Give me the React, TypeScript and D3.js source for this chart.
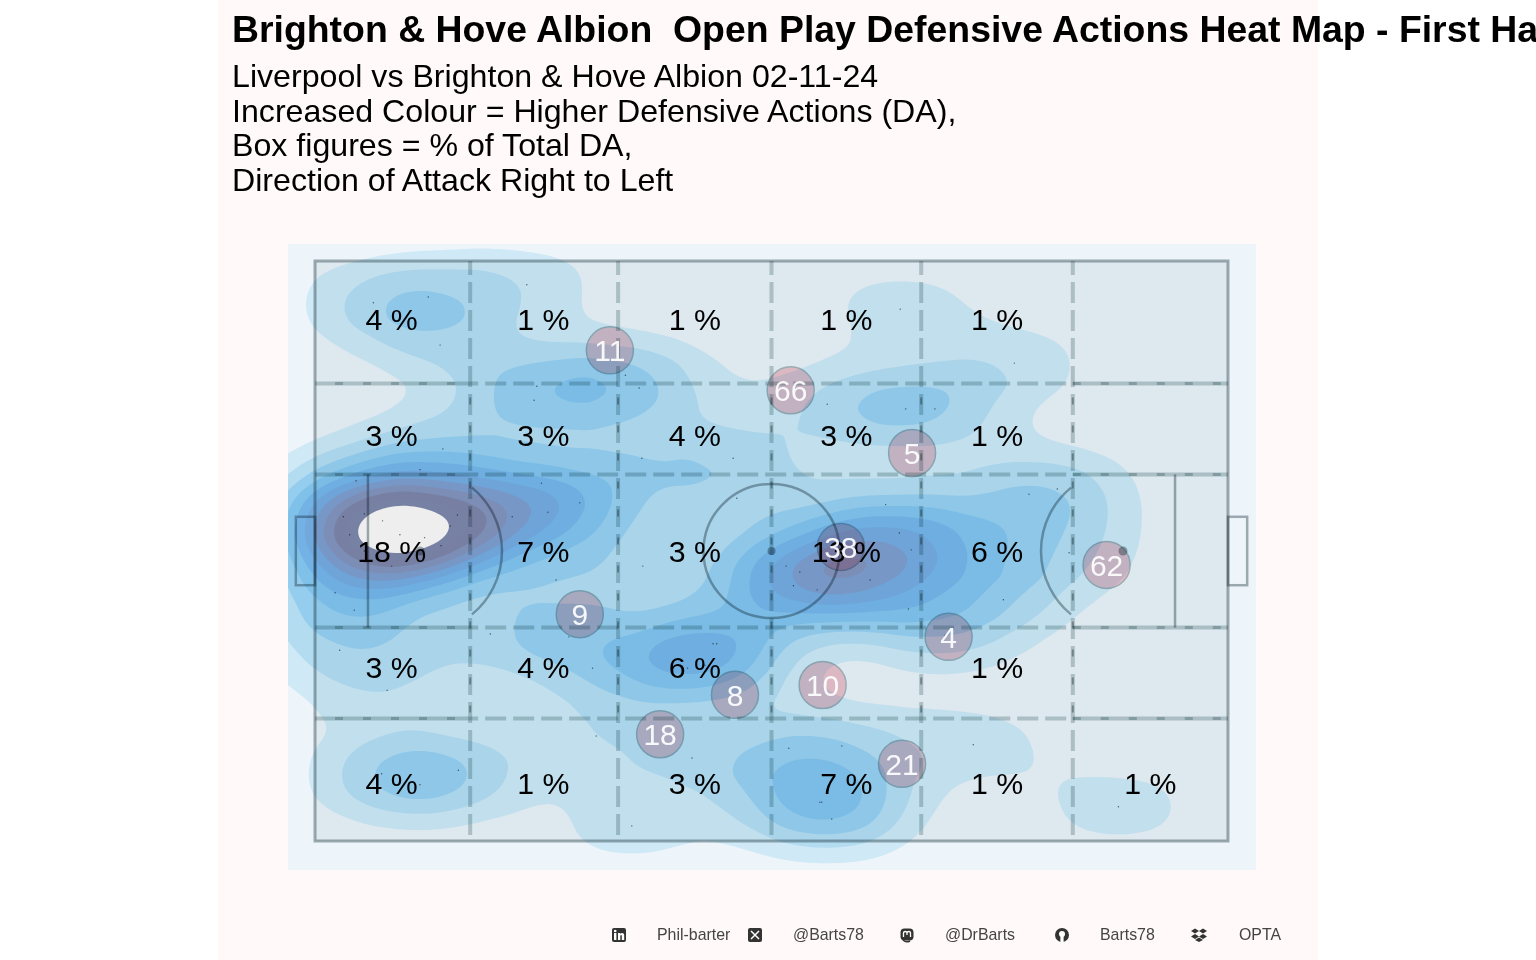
import React, { useMemo } from 'react';
import * as d3 from 'd3';

const WIDTH = 1536;
const HEIGHT = 960;

const titleText = 'Brighton & Hove Albion  Open Play Defensive Actions Heat Map - First Half';
const subtitleLines = [
  'Liverpool vs Brighton & Hove Albion 02-11-24',
  'Increased Colour = Higher Defensive Actions (DA),',
  'Box figures = % of Total DA,',
  'Direction of Attack Right to Left',
];

// pitch coords, 0-100 on both axes, y runs top to bottom
const actionX = [
  6.4, 12.4, 13.7, 23.2, 24.3, 24.0, 35.5, 14.0, 35.8, 45.8, 4.5, 24.8, 29.0, 25.5, 21.6, 15.6, 14.8, 3.1, 5.4, 7.4,
  3.8, 13.8, 5.4, 8.4, 2.2, 4.3, 46.2, 64.1, 76.6, 56.1, 64.7, 67.9, 78.2, 81.3, 64.0, 65.3, 82.6, 26.4, 35.9, 19.2,
  27.8, 30.4, 7.9, 43.6, 44.0, 30.8, 41.3, 15.7, 7.3, 34.7, 51.6, 53.1, 52.4, 55.0, 65.0, 75.4, 51.9, 57.7, 72.1, 55.3,
  55.5, 56.6, 88.0, 9.3, 12.0, 62.5, 60.8, 59.9, 73.4, 40.8, 42.7, 2.7, 11.5, 34.0, 69.0, 11.5,
];
const actionY = [
  7.2, 6.2, 14.5, 4.1, 21.6, 24.0, 21.9, 32.4, 34.0, 34.0, 37.9, 38.3, 41.7, 43.3, 44.1, 43.8, 45.7, 44.1, 43.6, 44.8,
  47.2, 49.1, 50.0, 52.6, 57.2, 60.2, 40.9, 8.3, 17.6, 24.7, 25.5, 25.5, 40.2, 39.3, 46.9, 49.8, 50.3, 55.0, 52.6, 64.3,
  64.8, 70.2, 74.0, 66.0, 66.0, 81.9, 85.7, 87.8, 88.4, 97.4, 52.6, 53.6, 56.0, 56.7, 60.0, 58.4, 84.0, 83.6, 83.4, 93.3,
  93.3, 96.2, 94.1, 47.2, 47.7, 42.0, 55.0, 49.0, 50.3, 70.2, 69.7, 67.1, 90.3, 19.7, 64.5, 36.0,
];

const zoneEdgesX = [17, 33.2, 50, 66.4, 83];
const zoneEdgesY = [21.1, 36.8, 63.2, 78.9];

// box figures, by row then column
const boxCentresX = [8.4, 25, 41.6, 58.2, 74.7, 91.5];
const boxCentresY = [10.2, 30.2, 50.2, 70.2, 90.3];
const boxLabels = [
  ['4 %', '1 %', '1 %', '1 %', '1 %', ''],
  ['3 %', '3 %', '4 %', '3 %', '1 %', ''],
  ['18 %', '7 %', '3 %', '13 %', '6 %', ''],
  ['3 %', '4 %', '6 %', '', '1 %', ''],
  ['4 %', '1 %', '3 %', '7 %', '1 %', '1 %'],
];

const shirtNumbers = ['11', '66', '5', '38', '62', '4', '9', '8', '10', '18', '21'];
const shirtX = [32.3, 52.1, 65.4, 57.6, 86.7, 69.4, 29.0, 46.0, 55.6, 37.8, 64.3];
const shirtY = [15.4, 22.3, 33.1, 49.3, 52.4, 64.8, 60.9, 74.8, 73.1, 81.6, 86.7];

const levelColours = [
  '#62bfea', '#50ade0', '#2e99e2', '#3895db', '#4481d8', '#7482ba', '#9d6a88', '#916f7f', '#695461', '#7a84a8',
];

const footerLabels = ['Phil-barter', '@Barts78', '@DrBarts', 'Barts78', 'OPTA'];
const footerLabelX = [657, 793, 945, 1100, 1239];
const footerIconX = [619, 755, 907, 1062, 1199];

const xScale = d3.scaleLinear().domain([0, 100]).range([315, 1228]);
const yScale = d3.scaleLinear().domain([0, 100]).range([261, 841]);

const PANEL = { x: 288, y: 244, w: 968, h: 626 };
const PAD = 80;
const STRETCH = 1.9; // blobs are wider than tall
const SIGMA = 30;
const LEVEL_STEP = 1.1e-4;

const sansFont = '"Liberation Sans", Arial, sans-serif';
const LINE = '#a6b0b2';
const DASH = '#c4d1d1';

const icons: Record<string, React.ReactNode> = {
  linkedin: (
    <g>
      <rect x={-7} y={-7} width={14} height={14} rx={2} fill="#333" />
      <rect x={-5} y={-2} width={2.4} height={7} fill="#fff" />
      <circle cx={-3.8} cy={-4} r={1.3} fill="#fff" />
      <path d="M-1,-2h2.2v1c1,-1.6,4,-1.5,4,1.4v4.6h-2.4v-4c0,-1.5,-1.5,-1.5,-1.5,0v4h-2.3z" fill="#fff" />
    </g>
  ),
  x: (
    <g>
      <rect x={-7} y={-7} width={14} height={14} rx={2} fill="#333" />
      <path d="M-4,-4L4,4M4,-4L-4,4" stroke="#fff" strokeWidth={1.5} />
    </g>
  ),
  mastodon: (
    <g>
      <rect x={-6.5} y={-6.5} width={13} height={12} rx={4} fill="#333" />
      <path d="M-3.5,2v-4c0,-2,3.5,-2,3.5,0c0,-2,3.5,-2,3.5,0v4M0,-2v2" stroke="#fff" strokeWidth={1.3} fill="none" />
      <path d="M-4,5c2,2,5,2,7,1" stroke="#333" strokeWidth={1.5} fill="none" />
    </g>
  ),
  github: (
    <g>
      <circle r={7} fill="#333" />
      <circle cy={-1} r={3} fill="#fff" />
      <rect x={-1.6} y={1} width={3.2} height={6} fill="#fff" />
    </g>
  ),
  dropbox: (
    <g fill="#333">
      <path d="M-4,-6.5L0,-4L-4,-1.5L-8,-4z" />
      <path d="M4,-6.5L8,-4L4,-1.5L0,-4z" />
      <path d="M-4,-1L0,1.5L-4,4L-8,1.5z" />
      <path d="M4,-1L8,1.5L4,4L0,1.5z" />
      <path d="M-4,5L0,2.5L4,5L0,7z" />
    </g>
  ),
};
const iconOrder = ['linkedin', 'x', 'mastodon', 'github', 'dropbox'];

const multiply: React.CSSProperties = { mixBlendMode: 'multiply' };

export default function App() {
  const actions = useMemo(() => actionX.map((x, i) => ({ x, y: actionY[i] })), []);

  const contours = useMemo(() => {
    const density = d3
      .contourDensity<{ x: number; y: number }>()
      .x((d) => (xScale(d.x) - PANEL.x + PAD) / STRETCH)
      .y((d) => yScale(d.y) - PANEL.y + PAD)
      .size([(PANEL.w + 2 * PAD) / STRETCH, PANEL.h + 2 * PAD])
      .cellSize(2)
      .bandwidth(SIGMA)
      .thresholds(d3.range(1, levelColours.length + 2).map((i) => i * LEVEL_STEP));
    return density(actions);
  }, [actions]);

  const geoPath = d3.geoPath();
  const boxArc = d3.arc();
  const arcHalf = Math.asin(52 / 82);

  const x0 = xScale(0);
  const x1 = xScale(100);
  const y0 = yScale(0);
  const y1 = yScale(100);

  const outlines: [number, number, number, number][] = [
    [0, 0, 100, 100],
    [-2.1, 44.1, 0, 55.9],
    [100, 44.1, 102.1, 55.9],
  ];

  return (
    <svg
      width={WIDTH}
      height={HEIGHT}
      viewBox={`0 0 ${WIDTH} ${HEIGHT}`}
      style={{ position: 'absolute', left: 0, top: 0, background: '#fff' }}
    >
      <defs>
        <clipPath id="panel-clip">
          <rect x={PANEL.x} y={PANEL.y} width={PANEL.w} height={PANEL.h} />
        </clipPath>
      </defs>

      <rect x={218} y={0} width={1100} height={HEIGHT} fill="#fff9f9" />
      <rect x={PANEL.x} y={PANEL.y} width={PANEL.w} height={PANEL.h} fill="#edf5fb" />
      <rect x={x0} y={y0} width={x1 - x0} height={y1 - y0} fill="#dde8ef" />

      {/* heat layers */}
      <g clipPath="url(#panel-clip)">
        <g transform={`translate(${PANEL.x - PAD},${PANEL.y - PAD}) scale(${STRETCH},1)`}>
          {contours.map((c, i) =>
            i < levelColours.length ? (
              <path key={i} d={geoPath(c) ?? ''} fill={levelColours[i]} fillOpacity={0.22} />
            ) : (
              <path key={i} d={geoPath(c) ?? ''} fill="#eeeeee" />
            ),
          )}
        </g>
      </g>

      {/* pitch markings sit on the heat with multiply so they darken with it */}
      {outlines.map(([a, b, c, d], i) => (
        <rect
          key={i}
          x={xScale(a)}
          y={yScale(b)}
          width={xScale(c) - xScale(a)}
          height={yScale(d) - yScale(b)}
          fill="none"
          stroke={LINE}
          strokeWidth={i === 0 ? 3 : 2.5}
          style={multiply}
        />
      ))}
      {/* box fronts only, their long edges are covered by the zone lines */}
      {[5.8, 94.2].map((x) => (
        <line
          key={x}
          x1={xScale(x)}
          x2={xScale(x)}
          y1={yScale(36.8)}
          y2={yScale(63.2)}
          stroke={LINE}
          strokeWidth={2.5}
          style={multiply}
        />
      ))}
      <ellipse
        cx={xScale(50)}
        cy={yScale(50)}
        rx={68}
        ry={67}
        fill="none"
        stroke={LINE}
        strokeWidth={2.5}
        style={multiply}
      />
      <circle cx={xScale(50)} cy={yScale(50)} r={4} fill={LINE} style={multiply} />
      <circle cx={xScale(11.5)} cy={yScale(50)} r={4.5} fill={LINE} style={multiply} />
      <circle cx={xScale(88.5)} cy={yScale(50)} r={4.5} fill={LINE} style={multiply} />
      <path
        transform={`translate(${xScale(11.5)},${yScale(50)})`}
        d={boxArc({ innerRadius: 82, outerRadius: 82, startAngle: arcHalf, endAngle: Math.PI - arcHalf }) ?? ''}
        fill="none"
        stroke={LINE}
        strokeWidth={2.5}
        style={multiply}
      />
      <path
        transform={`translate(${xScale(88.5)},${yScale(50)})`}
        d={boxArc({ innerRadius: 82, outerRadius: 82, startAngle: -arcHalf, endAngle: arcHalf - Math.PI }) ?? ''}
        fill="none"
        stroke={LINE}
        strokeWidth={2.5}
        style={multiply}
      />

      {/* zone lines */}
      {zoneEdgesX.map((x) => (
        <g key={x}>
          <line
            x1={xScale(x)}
            x2={xScale(x)}
            y1={y0}
            y2={y1}
            stroke={DASH}
            strokeWidth={4}
            strokeDasharray="21 7"
            strokeDashoffset={-21}
            style={multiply}
          />
          <line
            x1={xScale(x)}
            x2={xScale(x)}
            y1={yScale(21.1)}
            y2={yScale(78.9)}
            stroke={LINE}
            strokeWidth={2}
            strokeDasharray="7 21"
            strokeDashoffset={-14}
            style={multiply}
          />
        </g>
      ))}
      {zoneEdgesY.map((y) => (
        <g key={y}>
          <line
            x1={xScale(17)}
            x2={xScale(83)}
            y1={yScale(y)}
            y2={yScale(y)}
            stroke={DASH}
            strokeWidth={4}
            strokeDasharray="21 7"
            strokeDashoffset={-15}
            style={multiply}
          />
          {[
            [0, 17],
            [83, 100],
          ].map(([a, b]) => (
            <g key={a}>
              <line
                x1={xScale(a)}
                x2={xScale(b)}
                y1={yScale(y)}
                y2={yScale(y)}
                stroke={DASH}
                strokeWidth={4}
                style={multiply}
              />
              <line
                x1={xScale(a)}
                x2={xScale(b)}
                y1={yScale(y)}
                y2={yScale(y)}
                stroke={DASH}
                strokeWidth={3}
                strokeDasharray="8 20"
                strokeDashoffset={a === 0 ? -20 : 0}
                style={multiply}
              />
            </g>
          ))}
        </g>
      ))}

      {/* event dots */}
      {actions.map((d, i) => (
        <circle key={i} cx={xScale(d.x)} cy={yScale(d.y)} r={0.7} fill="#000" fillOpacity={0.6} />
      ))}

      {/* player average positions */}
      {shirtNumbers.map((n, i) => (
        <circle
          key={n}
          cx={xScale(shirtX[i])}
          cy={yScale(shirtY[i])}
          r={23.5}
          fill="#fecbd0"
          stroke="#b4bcbe"
          strokeWidth={1.5}
          style={multiply}
        />
      ))}
      {boxLabels.map((row, r) =>
        row.map((label, c) =>
          label ? (
            <text
              key={`${r}-${c}`}
              x={xScale(boxCentresX[c])}
              y={yScale(boxCentresY[r]) + 9.5}
              textAnchor="middle"
              fontFamily={sansFont}
              fontSize={30.3}
              fill="#000"
            >
              {label}
            </text>
          ) : null,
        ),
      )}
      {shirtNumbers.map((n, i) => (
        <text
          key={n}
          x={xScale(shirtX[i])}
          y={yScale(shirtY[i]) + 11}
          textAnchor="middle"
          fontFamily={sansFont}
          fontSize={30}
          fill="#fff"
          fillOpacity={0.92}
        >
          {n}
        </text>
      ))}

      {/* titles */}
      <text x={232} y={42} fontFamily={sansFont} fontWeight={700} fontSize={37.4} fill="#000" xmlSpace="preserve" style={{ whiteSpace: 'pre' }}>
        {titleText}
      </text>
      {subtitleLines.map((line, i) => (
        <text key={line} x={232} y={87 + i * 34.7} fontFamily={sansFont} fontSize={32.15} fill="#000">
          {line}
        </text>
      ))}

      {/* footer */}
      {footerLabels.map((label, i) => (
        <g key={label}>
          <g transform={`translate(${footerIconX[i]},935)`}>{icons[iconOrder[i]]}</g>
          <text x={footerLabelX[i]} y={940} fontFamily={sansFont} fontSize={15.9} fill="#444">
            {label}
          </text>
        </g>
      ))}
    </svg>
  );
}
